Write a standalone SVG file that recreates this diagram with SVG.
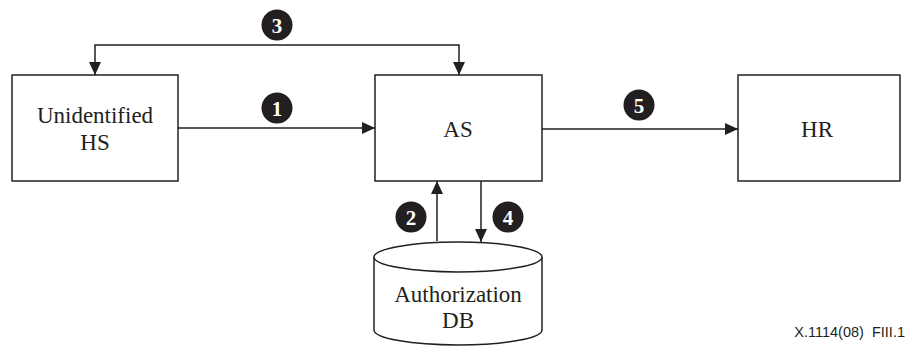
<svg xmlns="http://www.w3.org/2000/svg" width="907" height="347" viewBox="0 0 907 347">
  <style>
    .box { fill: #fff; stroke: #231f20; stroke-width: 1.5; }
    .lbl { font-family: "Liberation Serif", "Times New Roman", serif; font-size: 23px; fill: #231f20; text-anchor: middle; }
    .wire { fill: none; stroke: #231f20; stroke-width: 1.5; }
    .badge circle { fill: #231f20; }
    .badge text { font-family: "Liberation Serif", "Times New Roman", serif; font-weight: bold; font-size: 21px; fill: #fff; text-anchor: middle; }
    .ref { font-family: "Liberation Sans", Arial, sans-serif; font-size: 14.5px; fill: #231f20; text-anchor: end; white-space: pre; }
  </style>
  <defs>
    <marker id="arrow" viewBox="0 0 13 12" refX="13" refY="6" markerWidth="13" markerHeight="12" markerUnits="userSpaceOnUse" orient="auto">
      <path d="M0,0 L13,6 L0,12 Z" fill="#231f20"/>
    </marker>
  </defs>

  <rect width="907" height="347" fill="#fff"/>

  <g id="unidentified-hs">
    <rect class="box" x="12" y="75" width="166" height="106"/>
    <text class="lbl" x="95" y="123">Unidentified</text>
    <text class="lbl" x="95" y="150">HS</text>
  </g>

  <g id="as">
    <rect class="box" x="375" y="75" width="167" height="106"/>
    <text class="lbl" x="458" y="137">AS</text>
  </g>

  <g id="hr">
    <rect class="box" x="738" y="75" width="162" height="106"/>
    <text class="lbl" x="817" y="137">HR</text>
  </g>

  <g id="authorization-db">
    <path class="box" d="M374,257 L374,330 A84,15 0 0 0 542,330 L542,257"/>
    <ellipse class="box" cx="458" cy="257" rx="84" ry="15"/>
    <text class="lbl" x="458" y="302">Authorization</text>
    <text class="lbl" x="458" y="328">DB</text>
  </g>

  <g id="connectors">
    <path class="wire" d="M178,128 L375,128" marker-end="url(#arrow)"/>
    <path class="wire" d="M437,241 L437,181" marker-end="url(#arrow)"/>
    <path class="wire" d="M277,45 L95,45 L95,75" marker-end="url(#arrow)"/>
    <path class="wire" d="M277,45 L459,45 L459,75" marker-end="url(#arrow)"/>
    <path class="wire" d="M481,181 L481,242" marker-end="url(#arrow)"/>
    <path class="wire" d="M542,129 L738,129" marker-end="url(#arrow)"/>
  </g>

  <g id="step-badges" class="badge">
    <circle cx="277" cy="108" r="15.5"/><text x="277" y="115.5">1</text>
    <circle cx="411" cy="217" r="15.5"/><text x="411" y="224.5">2</text>
    <circle cx="277" cy="25" r="15.5"/><text x="277" y="32.5">3</text>
    <circle cx="508" cy="217" r="15.5"/><text x="508" y="224.5">4</text>
    <circle cx="639" cy="105" r="15.5"/><text x="639" y="112.5">5</text>
  </g>

  <text class="ref" x="905" y="337" xml:space="preserve">X.1114(08)  FIII.1</text>
</svg>
